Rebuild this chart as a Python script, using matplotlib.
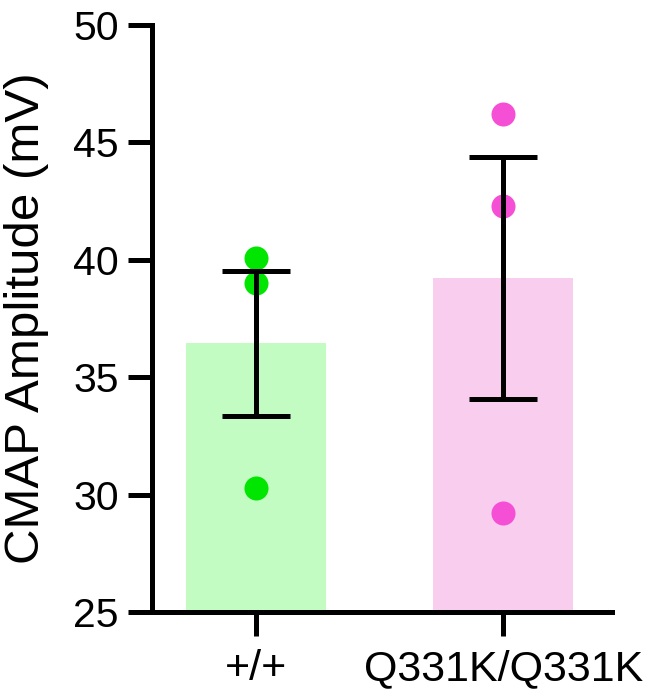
import matplotlib.pyplot as plt
import numpy as np

plt.rcParams['font.family'] = ['Liberation Sans', 'DejaVu Sans']

groups = ["+/+", "Q331K/Q331K"]
points_wt = [40.06, 39.0, 30.29]
points_ki = [46.21, 42.29, 29.20]
bar_colors = ["#C2FCC2", "#F8CDEE"]
dot_colors = ["#00E600", "#F550D5"]

data = [points_wt, points_ki]
means = [np.mean(d) for d in data]
sems = [np.std(d, ddof=1) / np.sqrt(len(d)) for d in data]
x = np.arange(len(groups))

fig = plt.figure(figsize=(6.46, 6.97), dpi=100)
ax = fig.add_axes([0.2353, 0.122, 0.7121, 0.842])

ax.bar(x, [m - 25 for m in means], bottom=25, width=0.567, color=bar_colors, zorder=1)
for i, d in enumerate(data):
    ax.scatter([x[i]] * len(d), d, s=24**2 * 0.52, color=dot_colors[i], zorder=2, linewidths=0)
ax.errorbar(x, means, yerr=sems, fmt='none', ecolor='black', elinewidth=3.6,
            capsize=24.5, capthick=3.6, zorder=3)

ax.set_ylim(25, 50)
ax.set_xlim(-0.42, 1.44)
ax.set_yticks([25, 30, 35, 40, 45, 50])
ax.set_xticks(x)
ax.set_xticklabels(groups)
ax.set_ylabel("CMAP Amplitude (mV)", fontsize=35.5, labelpad=17)
ax.tick_params(axis='y', labelsize=29.5, width=3.6, length=17, color='black', pad=7)
ax.tick_params(axis='x', labelsize=31, width=3.6, length=17, color='black', pad=10)
for s in ['top', 'right']:
    ax.spines[s].set_visible(False)
for s in ['left', 'bottom']:
    ax.spines[s].set_linewidth(3.6)

fig.savefig("out.png", dpi=100)
